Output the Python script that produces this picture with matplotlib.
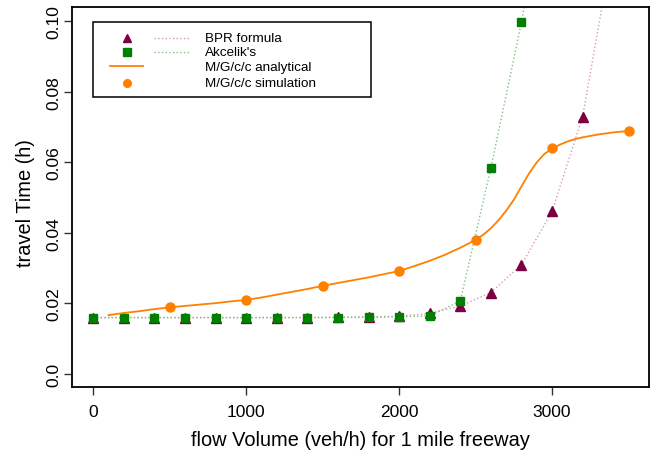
import matplotlib
matplotlib.use("Agg")
import matplotlib.pyplot as plt
from matplotlib.lines import Line2D
from matplotlib.patches import Rectangle

plt.rcParams['font.family'] = ['Liberation Sans', 'DejaVu Sans']

# Data
bpr_x = [0, 200, 400, 600, 800, 1000, 1200, 1400, 1600, 1800, 2000, 2200, 2400, 2600, 2800, 3000, 3200, 3400]
bpr_y = [0.0160, 0.0160, 0.0160, 0.0160, 0.0160, 0.0160, 0.0160, 0.0160, 0.0161, 0.0162, 0.0164, 0.0172,
         0.0193, 0.0231, 0.0310, 0.0461, 0.0730, 0.1220]

akc_x = [0, 200, 400, 600, 800, 1000, 1200, 1400, 1600, 1800, 2000, 2200, 2400, 2600, 2800, 3000]
akc_y = [0.0160, 0.0160, 0.0160, 0.0160, 0.0160, 0.0160, 0.0160, 0.0160, 0.0160, 0.0161, 0.0162, 0.0165,
         0.0207, 0.0584, 0.0997, 0.1500]

ana_x = [100, 200, 300, 400, 500, 600, 700, 800, 900, 1000, 1100, 1200, 1300, 1400, 1500, 1600, 1700,
         1800, 1900, 2000, 2100, 2200, 2300, 2400, 2500, 2550, 2600, 2650, 2700, 2750, 2800, 2850, 2900,
         2950, 3000, 3050, 3100, 3150, 3200, 3300, 3400, 3500]
ana_y = [0.0167, 0.0173, 0.0178, 0.0184, 0.0189, 0.0193, 0.0197, 0.0201, 0.0206, 0.0210, 0.0217, 0.0225,
         0.0233, 0.0241, 0.0250, 0.0258, 0.0266, 0.0274, 0.0283, 0.0292, 0.0306, 0.0321, 0.0338, 0.0358,
         0.0380, 0.0395, 0.0413, 0.0436, 0.0463, 0.0494, 0.0532, 0.0569, 0.0600, 0.0624, 0.0639, 0.0650,
         0.0659, 0.0666, 0.0671, 0.0679, 0.0685, 0.0689]

sim_x = [500, 1000, 1500, 2000, 2500, 3000, 3500]
sim_y = [0.0189, 0.0210, 0.0250, 0.0292, 0.0380, 0.0640, 0.0689]

x_ticks = [0, 1000, 2000, 3000]
y_ticks = [0.0, 0.02, 0.04, 0.06, 0.08, 0.10]
y_ticklabels = ['0.0', '0.02', '0.04', '0.06', '0.08', '0.10']

c_bpr = '#7a0040'
c_bpr_line = '#d89ab8'
c_akc = '#008000'
c_akc_line = '#80c080'
c_orange = '#ff8000'

fig = plt.figure(figsize=(6.53, 4.56), dpi=100)
ax = fig.add_axes([72/653, 1-388/456, (649-72)/653, (388-8)/456])

ax.plot(bpr_x, bpr_y, linestyle=':', color=c_bpr_line, lw=1.0, zorder=2)
ax.plot(bpr_x, bpr_y, linestyle='none', marker='^', color=c_bpr, ms=6.5, zorder=3)
ax.plot(akc_x, akc_y, linestyle=':', color=c_akc_line, lw=1.0, zorder=2)
ax.plot(akc_x, akc_y, linestyle='none', marker='s', color=c_akc, ms=6.2, zorder=4)
ax.plot(ana_x, ana_y, linestyle='-', color=c_orange, lw=1.3, zorder=5)
ax.plot(sim_x, sim_y, linestyle='none', marker='o', color=c_orange, ms=6.5, zorder=6)

ax.set_xlim(-139, 3634)
ax.set_ylim(-0.00368, 0.10405)
ax.set_xticks(x_ticks)
ax.set_xticklabels([str(v) for v in x_ticks])
ax.set_yticks(y_ticks)
ax.set_yticklabels(y_ticklabels, rotation=90, va='center')
ax.tick_params(direction='out', length=6, width=1, labelsize=12.5, colors='#333333', labelcolor='black')
ax.tick_params(axis='x', pad=6)
ax.tick_params(axis='y', pad=2)
for s in ax.spines.values():
    s.set_linewidth(1.3)
ax.set_xlabel('flow Volume (veh/h) for 1 mile freeway', fontsize=14.4)
ax.set_ylabel('travel Time (h)', fontsize=14.4)
ax.xaxis.set_label_coords(0.5, -0.113)
ax.yaxis.set_label_coords(-0.064, 0.487)

# legend (R-style, drawn in axes fraction coordinates)
def fx(px):
    return (px - 72) / (649 - 72)
def fy(py):
    return (388 - py) / (388 - 8)

ax.add_patch(Rectangle((fx(93), fy(98)), fx(371) - fx(93), fy(22.7) - fy(98), transform=ax.transAxes,
                       fill=False, edgecolor='black', lw=1.1, zorder=10))
rows = [38.5, 53, 68.5, 84]
labels = ['BPR formula', "Akcelik's", 'M/G/c/c analytical', 'M/G/c/c simulation']
ax.add_line(Line2D([fx(127)], [fy(rows[0])], marker='^', color=c_bpr, ms=5.5, transform=ax.transAxes, zorder=11))
ax.add_line(Line2D([fx(127)], [fy(rows[1])], marker='s', color=c_akc, ms=5.2, transform=ax.transAxes, zorder=11))
ax.add_line(Line2D([fx(110), fx(143)], [fy(rows[2] - 2), fy(rows[2] - 2)], color=c_orange, lw=1.3,
                   transform=ax.transAxes, zorder=11))
ax.add_line(Line2D([fx(127)], [fy(rows[3])], marker='o', color=c_orange, ms=5.5, transform=ax.transAxes, zorder=11))
ax.add_line(Line2D([fx(154), fx(189)], [fy(rows[0]), fy(rows[0])], ls=':', color=c_bpr_line, lw=1.0,
                   transform=ax.transAxes, zorder=11))
ax.add_line(Line2D([fx(154), fx(189)], [fy(rows[1]), fy(rows[1])], ls=':', color=c_akc_line, lw=1.0,
                   transform=ax.transAxes, zorder=11))
for r, t in zip(rows, labels):
    ax.text(fx(205), fy(r), t, transform=ax.transAxes, fontsize=9.7, va='center', ha='left', zorder=11)

fig.savefig('out.png', dpi=100)
